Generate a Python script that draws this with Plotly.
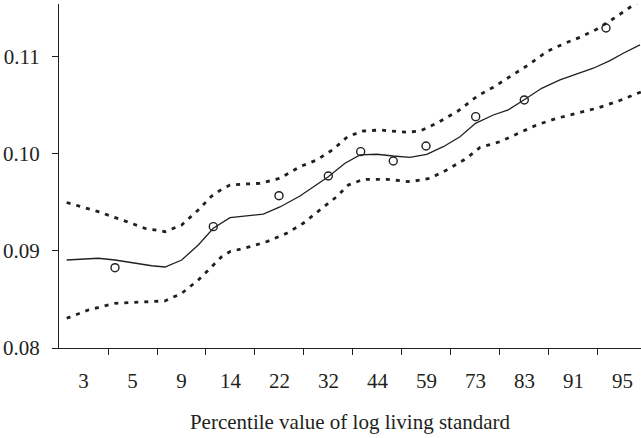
import plotly.graph_objects as go

# Percentile labels shown under each band of the horizontal axis
pct_labels = ["3", "5", "9", "14", "22", "32", "44", "59", "73", "83", "91", "95"]

# Fitted curve (position along percentile scale, value)
fit_x = [0.157, 0.802, 1.143, 1.892, 2.163, 2.504, 2.843, 3.149, 3.490, 4.169,
         4.510, 4.918, 5.496, 5.837, 6.143, 6.484, 6.822, 7.163, 7.504, 7.843,
         8.184, 8.500, 8.863, 9.169, 9.510, 9.851, 10.224, 10.565, 10.904,
         11.245, 11.516, 11.857]
fit_y = [0.08907, 0.08925, 0.08907, 0.08848, 0.08835, 0.08907, 0.09062, 0.09234,
         0.09343, 0.09381, 0.09454, 0.09567, 0.09766, 0.09904, 0.09990, 0.09997,
         0.09979, 0.09966, 0.09997, 0.10075, 0.10178, 0.10316, 0.10402, 0.10454,
         0.10564, 0.10677, 0.10763, 0.10825, 0.10884, 0.10962, 0.11038, 0.11124]

# Upper confidence band
upper_x = [0.157, 0.802, 1.382, 1.755, 2.163, 2.504, 2.843, 3.116, 3.320, 3.490,
           3.831, 4.102, 4.510, 4.918, 5.259, 5.598, 5.888, 6.210, 6.551, 7.096,
           7.367, 7.708, 8.143, 8.541, 8.863, 9.204, 9.578, 9.953, 10.292,
           10.633, 10.973, 11.381, 11.720, 11.878]
upper_y = [0.09500, 0.09405, 0.09302, 0.09234, 0.09199, 0.09268, 0.09423, 0.09567,
           0.09636, 0.09680, 0.09691, 0.09698, 0.09749, 0.09869, 0.09938, 0.10048,
           0.10178, 0.10237, 0.10247, 0.10224, 0.10237, 0.10316, 0.10443, 0.10598,
           0.10688, 0.10797, 0.10918, 0.11055, 0.11134, 0.11203, 0.11286, 0.11416,
           0.11536, 0.11580]

# Lower confidence band
lower_x = [0.157, 0.598, 1.143, 1.688, 2.163, 2.504, 2.843, 3.116, 3.320, 3.490,
           3.898, 4.239, 4.647, 4.986, 5.327, 5.667, 5.904, 6.210, 6.688, 7.163,
           7.571, 7.912, 8.320, 8.592, 9.000, 9.373, 9.749, 10.157, 10.565,
           10.973, 11.381, 11.720, 11.878]
lower_y = [0.08306, 0.08392, 0.08461, 0.08471, 0.08485, 0.08564, 0.08701, 0.08838,
           0.08941, 0.08993, 0.09044, 0.09096, 0.09182, 0.09286, 0.09423, 0.09560,
           0.09680, 0.09739, 0.09739, 0.09714, 0.09749, 0.09835, 0.09956, 0.10067,
           0.10127, 0.10213, 0.10299, 0.10368, 0.10420, 0.10471, 0.10539, 0.10608,
           0.10639]

# Observed group values
obs_x = [1.143, 3.149, 4.490, 5.496, 6.157, 6.822, 7.490, 8.504, 9.496, 11.163]
obs_y = [0.08828, 0.09251, 0.09570, 0.09773, 0.10024, 0.09928, 0.10082, 0.10385,
         0.10557, 0.11299]

y_ticks = [0.08, 0.09, 0.10, 0.11]

ink = "#231f20"
serif = "Liberation Serif, Times New Roman, serif"

fig = go.Figure()
for bx, by in ((upper_x, upper_y), (lower_x, lower_y)):
    fig.add_trace(go.Scatter(x=bx, y=by, mode="lines",
                             line=dict(color=ink, width=2.8, dash="4px,6px"),
                             showlegend=False, hoverinfo="skip"))
fig.add_trace(go.Scatter(x=fit_x, y=fit_y, mode="lines",
                         line=dict(color=ink, width=1.3),
                         showlegend=False))
fig.add_trace(go.Scatter(x=obs_x, y=obs_y, mode="markers",
                         marker=dict(symbol="circle-open", size=8,
                                     color=ink, line=dict(width=1.4, color=ink)),
                         showlegend=False))

n = len(pct_labels)
fig.update_layout(
    width=641, height=438,
    margin=dict(l=59, r=0, t=4, b=90),
    paper_bgcolor="white", plot_bgcolor="white",
    font=dict(family=serif, size=21, color=ink),
    xaxis=dict(
        range=[0, 11.878],
        tickmode="array",
        tickvals=[i + 0.5 for i in range(n)],
        ticktext=pct_labels,
        ticks="",
        ticklabelstandoff=14,
        minor=dict(tickmode="array", tickvals=list(range(1, n)),
                   ticks="outside", ticklen=6, tickwidth=1.2, tickcolor=ink),
        showline=True, linecolor=ink, linewidth=1.2,
        showgrid=False, zeroline=False,
        tickfont=dict(family=serif, size=21, color=ink),
        title=dict(text="Percentile value of log living standard",
                   font=dict(family=serif, size=21, color=ink), standoff=22),
    ),
    yaxis=dict(
        range=[0.08, 0.11546],
        tickmode="array",
        tickvals=y_ticks,
        ticktext=["%.2f" % v for v in y_ticks],
        ticks="outside", ticklen=6, tickwidth=1.2, tickcolor=ink,
        ticklabelstandoff=8,
        showline=True, linecolor=ink, linewidth=1.2,
        showgrid=False, zeroline=False,
        tickfont=dict(family=serif, size=21, color=ink),
    ),
)

fig.write_html("out.html")
